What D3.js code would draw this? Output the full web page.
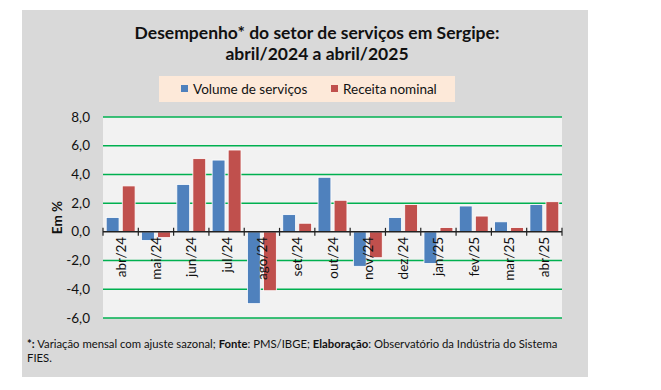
<!DOCTYPE html>
<html>
<head>
<meta charset="utf-8">
<script src="https://cdn.jsdelivr.net/npm/d3@7"></script>
<style>
  html, body { margin: 0; padding: 0; background: #fff; }
  svg { display: block; font-family: Lato, "Open Sans", sans-serif; }
</style>
</head>
<body>
<svg id="chart" width="661" height="390"></svg>
<script>
// Desempenho do setor de serviços em Sergipe — variação mensal (%)
const months = ["abr/24", "mai/24", "jun/24", "jul/24", "ago/24", "set/24", "out/24",
                "nov/24", "dez/24", "jan/25", "fev/25", "mar/25", "abr/25"];
const volume = [1.0, -0.6, 3.3, 5.0, -5.0, 1.2, 3.8, -2.4, 1.0, -2.2, 1.8, 0.7, 1.9];
const receita = [3.2, -0.4, 5.1, 5.7, -4.1, 0.6, 2.2, -1.8, 1.9, 0.3, 1.1, 0.3, 2.1];
const yTicks = [-6, -4, -2, 0, 2, 4, 6, 8];
const seriesNames = ["Volume de serviços", "Receita nominal"];

const BLUE = "#4F81BD", RED = "#C0504D";
const fmt = (v) => v.toFixed(1).replace(".", ",");

const svg = d3.select("#chart");

// grey frame
svg.append("rect").attr("x", 22).attr("y", 10).attr("width", 566).attr("height", 367).attr("fill", "#D9D9D9");

// title
const title = svg.append("text").attr("text-anchor", "middle").attr("font-weight", "bold")
  .attr("font-size", 17.5).attr("fill", "#111");
title.append("tspan").attr("x", 317).attr("y", 39).text("Desempenho* do setor de serviços em Sergipe:");
title.append("tspan").attr("x", 317).attr("y", 60).text("abril/2024 a abril/2025");

// legend
const lg = svg.append("g");
lg.append("rect").attr("x", 159).attr("y", 76).attr("width", 296).attr("height", 26).attr("fill", "#FDE9D9");
const legendItems = [{ name: seriesNames[0], c: BLUE, x: 181 }, { name: seriesNames[1], c: RED, x: 331 }];
legendItems.forEach((d) => {
  lg.append("rect").attr("x", d.x).attr("y", 85).attr("width", 7).attr("height", 7).attr("fill", d.c);
  lg.append("text").attr("x", d.x + 12).attr("y", 93.5).attr("font-size", 13.5).attr("fill", "#111").text(d.name);
});

// plot area
const plot = { left: 103, right: 562, top: 117, bottom: 318 };
svg.append("rect").attr("x", plot.left).attr("y", plot.top)
  .attr("width", plot.right - plot.left).attr("height", plot.bottom - plot.top).attr("fill", "#F2F2F2");

const y = d3.scaleLinear().domain([-6, 8]).range([plot.bottom, plot.top]);
const x = d3.scaleBand().domain(months).range([plot.left, plot.right]);
const xs = d3.scaleBand().domain([0, 1]).range([0, x.bandwidth()]).paddingInner(0.2).paddingOuter(0.2);

// gridlines
svg.append("g").selectAll("line").data(yTicks.filter((t) => t !== 0)).join("line")
  .attr("x1", plot.left).attr("x2", plot.right)
  .attr("y1", (d) => y(d)).attr("y2", (d) => y(d))
  .attr("stroke", "#00B050").attr("stroke-width", 1.5);

// y labels
svg.append("g").selectAll("text").data(yTicks).join("text")
  .attr("x", 90).attr("y", (d) => y(d) + 4.5).attr("text-anchor", "end")
  .attr("font-size", 13.5).attr("fill", "#111").text(fmt);

svg.append("text").attr("transform", `translate(62,${(plot.top + plot.bottom) / 2}) rotate(-90)`)
  .attr("text-anchor", "middle").attr("font-weight", "bold").attr("font-size", 13.5).attr("fill", "#111")
  .text("Em %");

// bars
const rows = months.map((m, i) => ({ m, vals: [volume[i], receita[i]] }));
const groups = svg.append("g").selectAll("g").data(rows).join("g")
  .attr("transform", (d) => `translate(${x(d.m)},0)`);
groups.selectAll("rect").data((d) => d.vals.map((v, k) => ({ v, k }))).join("rect")
  .attr("x", (d) => xs(d.k))
  .attr("width", xs.bandwidth())
  .attr("y", (d) => y(Math.max(0, d.v)))
  .attr("height", (d) => Math.abs(y(d.v) - y(0)))
  .attr("fill", (d) => (d.k === 0 ? BLUE : RED))
  .attr("stroke", "#fff").attr("stroke-width", 0.8);

// zero axis with category tick marks
svg.append("line").attr("x1", plot.left).attr("x2", plot.right).attr("y1", y(0)).attr("y2", y(0))
  .attr("stroke", "#222").attr("stroke-width", 1.5);
const bounds = months.map((m) => x(m)).concat([plot.right]);
svg.append("g").selectAll("line").data(bounds).join("line")
  .attr("x1", (d) => d).attr("x2", (d) => d)
  .attr("y1", y(0) - 4).attr("y2", y(0) + 4)
  .attr("stroke", "#222").attr("stroke-width", 1.2);

// category labels
svg.append("g").selectAll("text").data(months).join("text")
  .attr("transform", (d) => `translate(${x(d) + x.bandwidth() / 2 + 5},${y(0) + 5}) rotate(-90)`)
  .attr("text-anchor", "end").attr("font-size", 13.5).attr("fill", "#111").text((d) => d);

// footnote
const fn = svg.append("text").attr("font-size", 11.3).attr("fill", "#111");
const parts = [["*:", true], [" Variação mensal com ajuste sazonal; ", false], ["Fonte", true], [": PMS/IBGE; ", false],
               ["Elaboração", true], [": Observatório da Indústria do Sistema", false]];
parts.forEach(([t, b], i) => {
  const s = fn.append("tspan").attr("font-weight", b ? "bold" : null).text(t);
  if (i === 0) s.attr("x", 27).attr("y", 348);
});
fn.append("tspan").attr("x", 27).attr("y", 362).text("FIES.");
</script>
</body>
</html>
